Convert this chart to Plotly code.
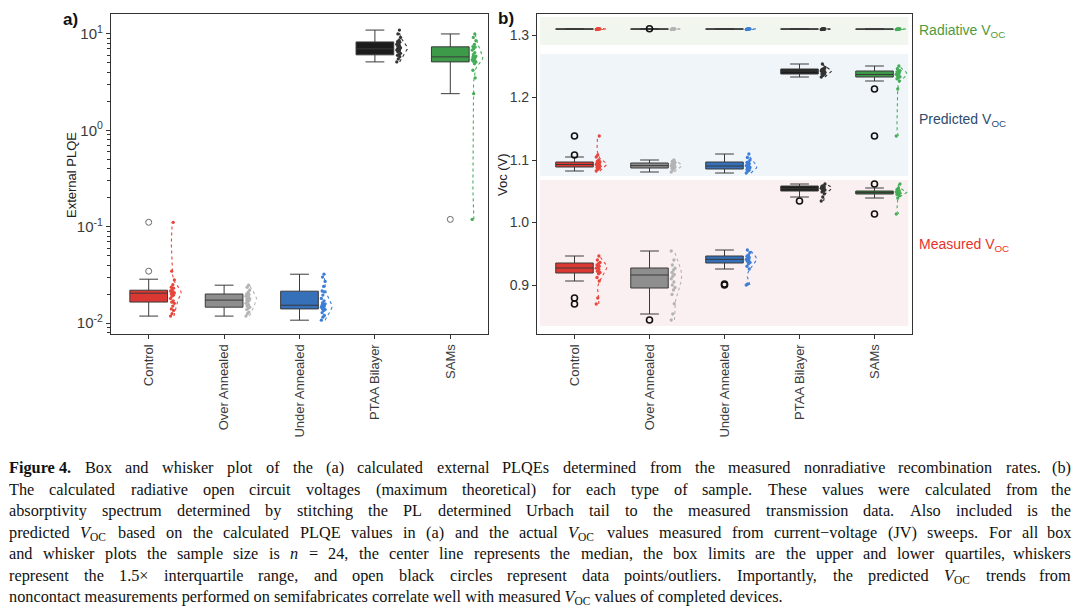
import re
import numpy as np
import plotly.graph_objects as go

# ---------------- data ----------------
categories = ["Control", "Over Annealed", "Under Annealed", "PTAA Bilayer", "SAMs"]
cat_pos = [1, 2, 3, 4, 5]

box_colors = ["#dc3833", "#8e8e8e", "#3570b9", "#1c1c1c", "#3d9a49"]
point_colors = ["#e8453c", "#b4b4b4", "#3d7fd6", "#333333", "#45ad57"]

# Panel a: external PLQE box statistics
plqe_q1 = [0.0165, 0.0146, 0.0140, 6.07, 5.13]
plqe_median = [0.0204, 0.0173, 0.0153, 7.00, 5.78]
plqe_q3 = [0.0219, 0.0200, 0.0214, 8.26, 7.35]
plqe_low = [0.0118, 0.0118, 0.0107, 5.13, 2.40]
plqe_high = [0.0285, 0.0247, 0.0321, 10.97, 10.0]
plqe_outliers = [[0.0345, 0.111], [], [], [], [0.119]]

plqe_control = [0.0118, 0.0125, 0.0135, 0.014, 0.015, 0.016, 0.0165, 0.017, 0.018, 0.019, 0.0195, 0.020,
                0.0205, 0.0205, 0.021, 0.021, 0.0215, 0.022, 0.023, 0.0235, 0.025, 0.028, 0.0345, 0.111]
plqe_over = [0.0118, 0.0125, 0.013, 0.0138, 0.0142, 0.0146, 0.015, 0.0155, 0.016, 0.0165, 0.017, 0.0172,
             0.0174, 0.0178, 0.018, 0.0185, 0.019, 0.0195, 0.0198, 0.020, 0.021, 0.022, 0.0235, 0.0247]
plqe_under = [0.0107, 0.0115, 0.012, 0.0128, 0.0135, 0.0138, 0.014, 0.0143, 0.0146, 0.0149, 0.0151, 0.0153,
              0.0155, 0.0158, 0.0162, 0.017, 0.018, 0.0195, 0.021, 0.0215, 0.024, 0.027, 0.030, 0.0321]
plqe_ptaa = [5.13, 5.5, 5.8, 6.0, 6.1, 6.3, 6.5, 6.7, 6.8, 6.9, 7.0, 7.0, 7.1, 7.2, 7.4, 7.6, 7.8, 8.0,
             8.2, 8.3, 8.6, 9.2, 10.0, 10.97]
plqe_sams = [0.119, 2.4, 3.5, 4.2, 4.9, 5.1, 5.2, 5.3, 5.4, 5.5, 5.7, 5.75, 5.8, 5.9, 6.1, 6.4, 6.8, 7.0,
             7.3, 7.4, 7.8, 8.5, 9.2, 10.0]
plqe_points = [plqe_control, plqe_over, plqe_under, plqe_ptaa, plqe_sams]

# Panel b: Voc box statistics (radiative, predicted, measured)
rad_q1 = [1.3092, 1.3092, 1.3092, 1.3092, 1.3091]
rad_median = [1.3095, 1.3095, 1.3095, 1.3095, 1.3094]
rad_q3 = [1.3098, 1.3098, 1.3098, 1.3098, 1.3097]
rad_low = [1.3088, 1.3088, 1.3088, 1.3088, 1.3087]
rad_high = [1.3102, 1.3102, 1.3102, 1.3102, 1.3101]
rad_outliers = [[], [1.3100], [], [], []]
rad_points = [
    [1.3088, 1.3091, 1.3093, 1.3095, 1.3096, 1.3098, 1.3100, 1.3102],
    [1.3088, 1.3090, 1.3093, 1.3095, 1.3096, 1.3098, 1.3100, 1.3102],
    [1.3088, 1.3091, 1.3093, 1.3094, 1.3096, 1.3098, 1.3099, 1.3102],
    [1.3088, 1.3090, 1.3092, 1.3095, 1.3096, 1.3097, 1.3100, 1.3102],
    [1.3087, 1.3090, 1.3092, 1.3094, 1.3095, 1.3097, 1.3099, 1.3101],
]

pred_q1 = [1.0888, 1.0872, 1.0856, 1.2376, 1.2328]
pred_median = [1.0928, 1.0910, 1.0904, 1.2424, 1.2368]
pred_q3 = [1.0968, 1.0952, 1.0968, 1.2456, 1.2424]
pred_low = [1.0824, 1.0808, 1.0792, 1.2328, 1.2264]
pred_high = [1.1048, 1.1000, 1.1096, 1.2536, 1.2504]
pred_outliers = [[1.108, 1.1384], [], [], [], [1.2136, 1.1384]]
pred_points = [
    [1.0824, 1.085, 1.087, 1.088, 1.089, 1.090, 1.091, 1.092, 1.093, 1.093, 1.094, 1.095, 1.096, 1.097,
     1.098, 1.100, 1.1048, 1.108, 1.1384],
    [1.0808, 1.084, 1.086, 1.087, 1.088, 1.089, 1.090, 1.091, 1.091, 1.092, 1.093, 1.094, 1.095, 1.096,
     1.098, 1.100],
    [1.0792, 1.082, 1.084, 1.085, 1.086, 1.088, 1.089, 1.090, 1.091, 1.092, 1.094, 1.096, 1.097, 1.100,
     1.104, 1.1096],
    [1.2328, 1.235, 1.237, 1.238, 1.239, 1.240, 1.241, 1.242, 1.2425, 1.243, 1.244, 1.245, 1.246, 1.248,
     1.2536],
    [1.1384, 1.2136, 1.2264, 1.230, 1.232, 1.233, 1.235, 1.236, 1.237, 1.238, 1.240, 1.241, 1.242, 1.243,
     1.246, 1.2504],
]

meas_q1 = [0.9192, 0.8952, 0.9352, 1.0504, 1.0456]
meas_median = [0.9272, 0.9160, 0.9410, 1.0540, 1.0480]
meas_q3 = [0.9352, 0.9272, 0.9464, 1.0584, 1.0504]
meas_low = [0.9064, 0.8536, 0.9256, 1.0408, 1.0392]
meas_high = [0.9464, 0.9544, 0.9560, 1.0616, 1.0552]
meas_outliers = [[0.8792, 0.8696], [0.844], [0.9016, 0.900], [1.0344], [1.0616, 1.0136]]
meas_points = [
    [0.8696, 0.8792, 0.9064, 0.912, 0.918, 0.920, 0.922, 0.925, 0.927, 0.928, 0.930, 0.932, 0.934, 0.936,
     0.940, 0.9464],
    [0.844, 0.8536, 0.870, 0.885, 0.892, 0.896, 0.900, 0.905, 0.910, 0.914, 0.917, 0.920, 0.924, 0.927,
     0.932, 0.940, 0.9544],
    [0.900, 0.9016, 0.9256, 0.930, 0.934, 0.936, 0.938, 0.940, 0.941, 0.942, 0.944, 0.946, 0.948, 0.952,
     0.956],
    [1.0344, 1.0408, 1.046, 1.049, 1.051, 1.052, 1.053, 1.054, 1.055, 1.056, 1.057, 1.058, 1.059, 1.0616],
    [1.0136, 1.0392, 1.043, 1.045, 1.046, 1.047, 1.048, 1.048, 1.049, 1.050, 1.051, 1.053, 1.0552, 1.0616],
]
meas_box_colors = ["#dc3833", "#8e8e8e", "#3570b9", "#1c1c1c", "#23782c"]

VOC = "<i>V</i><sub>OC</sub>"
caption_lines = [
    "<b>Figure 4.</b> Box and whisker plot of the (a) calculated external PLQEs determined from the measured nonradiative recombination rates. (b)",
    "The calculated radiative open circuit voltages (maximum theoretical) for each type of sample. These values were calculated from the",
    "absorptivity spectrum determined by stitching the PL determined Urbach tail to the measured transmission data. Also included is the",
    f"predicted {VOC} based on the calculated PLQE values in (a) and the actual {VOC} values measured from current\u2212voltage (JV) sweeps. For all box",
    "and whisker plots the sample size is <i>n</i> = 24, the center line represents the median, the box limits are the upper and lower quartiles, whiskers",
    f"represent the 1.5\u00d7 interquartile range, and open black circles represent data points/outliers. Importantly, the predicted {VOC} trends from",
    f"noncontact measurements performed on semifabricates correlate well with measured {VOC} values of completed devices.",
]

# ---------------- helpers ----------------
SANS = "Liberation Sans, Arial, sans-serif"
SERIF = "Liberation Serif, Times New Roman, serif"


def kde(vals, n=90):
    v = np.asarray(vals, dtype=float)
    sd = v.std(ddof=1)
    q75, q25 = np.percentile(v, [75, 25])
    spread = min(sd, (q75 - q25) / 1.34) if q75 > q25 else sd
    bw = 0.9 * spread * len(v) ** -0.2
    grid = np.linspace(v.min(), v.max(), n)
    dens = np.exp(-0.5 * ((grid[:, None] - v[None, :]) / bw) ** 2).sum(axis=1)
    return grid, dens / dens.max()


jit = [0.0, 0.02, 0.04, 0.01, 0.03, 0.05, 0.015, 0.035]

fig = go.Figure()


def add_group(xa, ya, pos, q1, med, q3, lo, hi, fill, pcolor, pts, outl, ocolor, log=False,
              owidth=1.0):
    fig.add_trace(go.Box(
        x=[pos], q1=[q1], median=[med], q3=[q3], lowerfence=[lo], upperfence=[hi],
        width=0.5, whiskerwidth=0.5, fillcolor=fill, line=dict(color="#3a3a3a", width=1),
        boxpoints=False, xaxis=xa, yaxis=ya, showlegend=False, hoverinfo="skip"))
    if outl:
        fig.add_trace(go.Scatter(
            x=[pos] * len(outl), y=outl, mode="markers", xaxis=xa, yaxis=ya, showlegend=False,
            marker=dict(symbol="circle-open", size=6, color=ocolor, line=dict(width=owidth, color=ocolor)),
            hoverinfo="skip"))
    vals = np.log10(pts) if log else np.asarray(pts)
    g, d = kde(vals)
    gy = 10 ** g if log else g
    fig.add_trace(go.Scatter(
        x=pos + 0.30 + 0.13 * d, y=gy, mode="lines", xaxis=xa, yaxis=ya, showlegend=False,
        line=dict(color=pcolor, width=1.1, dash="dot"), hoverinfo="skip"))
    fig.add_trace(go.Scatter(
        x=[pos + 0.29 + jit[i % len(jit)] for i in range(len(pts))], y=pts, mode="markers",
        xaxis=xa, yaxis=ya, showlegend=False, marker=dict(size=3.3, color=pcolor),
        hoverinfo="skip"))


for i, p in enumerate(cat_pos):
    add_group("x", "y", p, plqe_q1[i], plqe_median[i], plqe_q3[i], plqe_low[i], plqe_high[i],
              box_colors[i], point_colors[i], plqe_points[i], plqe_outliers[i], "#6a6a6a", log=True)

for i, p in enumerate(cat_pos):
    add_group("x2", "y2", p, rad_q1[i], rad_median[i], rad_q3[i], rad_low[i], rad_high[i],
              box_colors[i], point_colors[i], rad_points[i], rad_outliers[i], "#111111", owidth=1.6)
    add_group("x2", "y2", p, pred_q1[i], pred_median[i], pred_q3[i], pred_low[i], pred_high[i],
              box_colors[i], point_colors[i], pred_points[i], pred_outliers[i], "#111111", owidth=1.6)
    add_group("x2", "y2", p, meas_q1[i], meas_median[i], meas_q3[i], meas_low[i], meas_high[i],
              meas_box_colors[i], point_colors[i], meas_points[i], meas_outliers[i], "#111111", owidth=1.6)

# ---------------- layout ----------------
W, H = 1080, 606


def px_x(v):
    return v / W


def px_y(v):
    return 1 - v / H


axis_common = dict(showline=True, mirror=True, linecolor="#333333", linewidth=1.2, showgrid=False,
                   zeroline=False, ticks="outside", ticklen=4, tickcolor="#333333",
                   tickfont=dict(family=SANS, size=14, color="#3a3a3a"))

xcommon = dict(axis_common, range=[0.5, 5.5], tickmode="array", tickvals=cat_pos, ticktext=categories,
               tickangle=-90, tickfont=dict(family=SANS, size=13, color="#3a3a3a"))

minor_log = [k * 10.0 ** e for e in range(-3, 2) for k in range(2, 10)]

fig.update_layout(
    width=W, height=H, margin=dict(l=0, r=0, t=0, b=0),
    paper_bgcolor="white", plot_bgcolor="white", boxmode="overlay", showlegend=False,
    xaxis=dict(xcommon, domain=[px_x(111), px_x(488)], anchor="y"),
    yaxis=dict(axis_common, type="log", range=[-2.114, 1.207], domain=[px_y(334), px_y(14)], anchor="x",
               tickmode="array", tickvals=[0.01, 0.1, 1, 10],
               ticktext=["10<sup>-2</sup>", "10<sup>-1</sup>", "10<sup>0</sup>", "10<sup>1</sup>"],
               tickfont=dict(family=SANS, size=15, color="#3a3a3a"),
               minor=dict(tickmode="array", tickvals=minor_log, ticks="outside", ticklen=3,
                          tickcolor="#333333", showgrid=False)),
    xaxis2=dict(xcommon, domain=[px_x(537), px_x(912)], anchor="y2"),
    yaxis2=dict(axis_common, range=[0.8216, 1.3336], domain=[px_y(334), px_y(14)], anchor="x2",
                tickmode="array", tickvals=[0.9, 1.0, 1.1, 1.2, 1.3],
                ticktext=["0.9", "1.0", "1.1", "1.2", "1.3"]),
)

bands = [(1.284, 1.329, "#f1f7ee"), (1.0744, 1.2696, "#f0f5fa"), (0.8344, 1.068, "#fbf0f1")]
for y0, y1, c in bands:
    fig.add_shape(type="rect", xref="x2", yref="y2", x0=0.54, x1=5.45, y0=y0, y1=y1,
                  fillcolor=c, line=dict(width=0), layer="below")

ann = []
ann.append(dict(text="<b>a)</b>", x=px_x(70), y=px_y(20), font=dict(family=SANS, size=17, color="#111")))
ann.append(dict(text="<b>b)</b>", x=px_x(506), y=px_y(18), font=dict(family=SANS, size=17, color="#111")))
ann.append(dict(text="External PLQE", x=px_x(71), y=px_y(175), textangle=-90,
                font=dict(family=SANS, size=13, color="#222")))
ann.append(dict(text="Voc (V)", x=px_x(502), y=px_y(175), textangle=-90,
                font=dict(family=SANS, size=13, color="#222")))
side_labels = [("Radiative V<sub>OC</sub>", 31, "#4f9a3c"), ("Predicted V<sub>OC</sub>", 120, "#2d4b6d"),
               ("Measured V<sub>OC</sub>", 245, "#e8322a")]
for t, yy, c in side_labels:
    ann.append(dict(text=t, x=px_x(918), y=px_y(yy), xanchor="left",
                    font=dict(family=SANS, size=14, color=c)))

# ---- justified caption (Times metrics, per 1000 em) ----
TIMES = {" ": 250, "(": 333, ")": 333, ",": 250, "-": 333, ".": 250, "/": 278, ":": 278, "=": 564,
         "\u00d7": 564, "\u2212": 564}
TIMES.update({d: 500 for d in "0123456789"})
TIMES.update(dict(zip("ABCDEFGHIJKLMNOPQRSTUVWXYZ",
                      [722, 667, 667, 722, 611, 556, 722, 722, 333, 389, 722, 611, 889, 722, 722, 556, 722,
                       667, 556, 611, 722, 722, 944, 722, 722, 611])))
TIMES.update(dict(zip("abcdefghijklmnopqrstuvwxyz",
                      [444, 500, 444, 500, 444, 333, 500, 500, 278, 278, 500, 278, 778, 500, 500, 500, 500,
                       333, 389, 278, 500, 500, 722, 500, 500, 444])))
TIMES_BOLD = dict(TIMES, F=611, u=556, r=444)
CAP_SIZE = 16.3


def word_width(w):
    total, bold, sub = 0.0, False, False
    for part in re.split(r"(<[^>]+>)", w):
        if part.startswith("<"):
            if part == "<b>":
                bold = True
            elif part == "</b>":
                bold = False
            elif part == "<sub>":
                sub = True
            elif part == "</sub>":
                sub = False
            continue
        table = TIMES_BOLD if bold else TIMES
        scale = 0.7 if sub else 1.0
        total += sum(table.get(ch, 500) for ch in part) * scale
    return total * CAP_SIZE / 1000.0


def tokenize(line):
    toks, cur, depth = [], "", 0
    for ch in line:
        if ch == "<":
            depth += 1
        elif ch == ">":
            depth -= 1
        if ch == " " and depth == 0:
            toks.append(cur)
            cur = ""
        else:
            cur += ch
    toks.append(cur)
    merged = []
    for t in toks:
        if merged and merged[-1].startswith("<b>") and "</b>" not in merged[-1]:
            merged[-1] += " " + t
        else:
            merged.append(t)
    return merged


CAP_L, CAP_R = 8, 1072
cap_y = [467, 489, 510, 532, 553, 575, 596]
for li, (line, yy) in enumerate(zip(caption_lines, cap_y)):
    ytop = px_y(yy - 10)
    if li == len(caption_lines) - 1:
        ann.append(dict(text=line, x=px_x(CAP_L), y=ytop, xanchor="left", yanchor="top",
                        font=dict(family=SERIF, size=CAP_SIZE, color="#111")))
        continue
    words = tokenize(line)
    widths = [word_width(w) for w in words]
    gap = (CAP_R - CAP_L - sum(widths)) / (len(words) - 1)
    xcur = CAP_L
    for wi, (w, wd) in enumerate(zip(words, widths)):
        if wi == len(words) - 1:
            ann.append(dict(text=w, x=px_x(CAP_R), y=ytop, xanchor="right", yanchor="top",
                            font=dict(family=SERIF, size=CAP_SIZE, color="#111")))
        else:
            ann.append(dict(text=w, x=px_x(xcur), y=ytop, xanchor="left", yanchor="top",
                            font=dict(family=SERIF, size=CAP_SIZE, color="#111")))
        xcur += wd + gap

for a in ann:
    a.setdefault("xanchor", "center")
    a.setdefault("yanchor", "middle")
    a.update(xref="paper", yref="paper", showarrow=False, borderpad=0)
fig.update_layout(annotations=ann)

fig.write_html("out.html", config={"displayModeBar": False},
               post_script="document.body.style.margin='0';")
